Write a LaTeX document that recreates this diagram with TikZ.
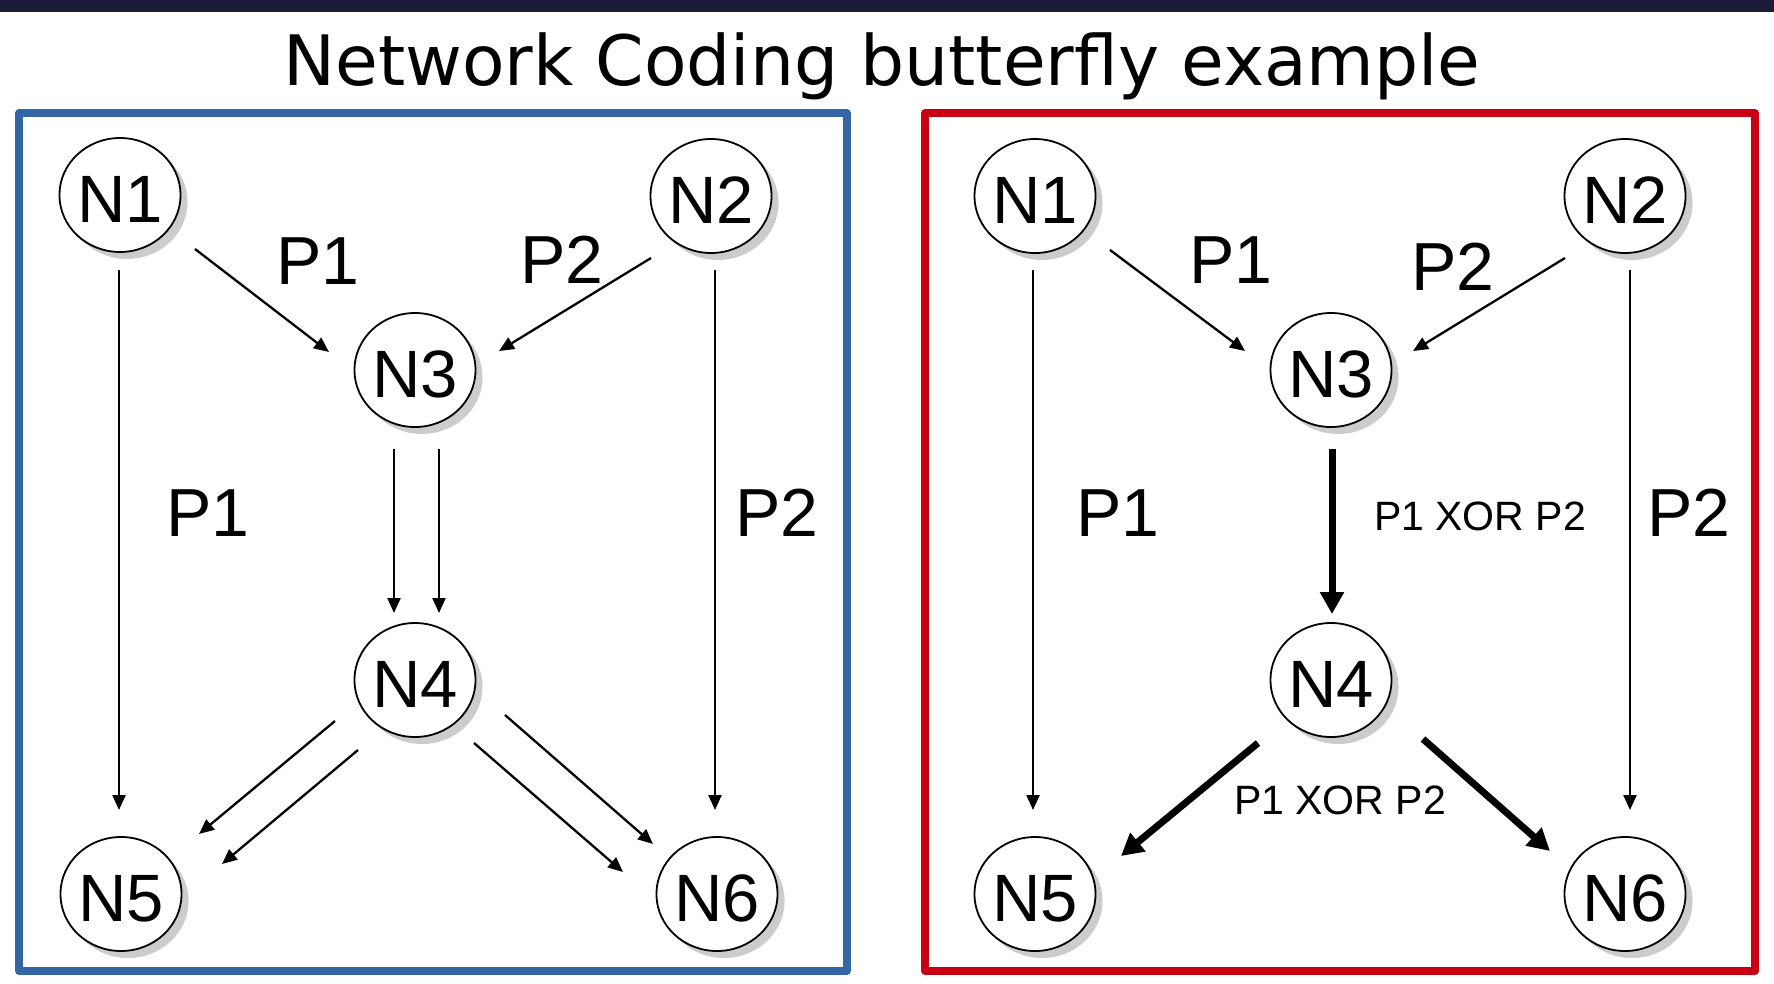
\documentclass[tikz,border=0pt]{standalone}
\usepackage{fontspec}
\setmainfont{Liberation Sans}
\newfontfamily\titlefont{DejaVu Sans}
\usetikzlibrary{arrows.meta,shapes.geometric,shadows,calc}
\definecolor{barcol}{RGB}{27,27,58}
\definecolor{boxblue}{RGB}{52,101,164}
\definecolor{boxred}{RGB}{201,0,20}
\definecolor{shadowgray}{RGB}{204,204,204}
\begin{document}
\begin{tikzpicture}[x=1pt,y=-1pt,
  netnode/.style={ellipse, draw=black, line width=1.8pt, fill=white,
    minimum width=119pt, minimum height=114pt, inner sep=0pt,
    text height=54pt, text depth=0pt,
    font=\fontsize{67}{67}\selectfont,
    drop shadow={shadow xshift=7pt, shadow yshift=-7pt, fill=shadowgray, opacity=1, draw=none}},
  biglabel/.style={font=\fontsize{68}{68}\selectfont, inner sep=0pt},
  smalllabel/.style={font=\fontsize{41}{41}\selectfont, inner sep=0pt},
  thinarrow/.style={line width=2.3pt, -{Triangle[length=15pt,width=13pt]}},
  thickarrow/.style={line width=7pt, -{Triangle[length=22pt,width=23pt]}},
  panel/.style={line width=7.5pt, line join=round}
]
\useasboundingbox (0,0) rectangle (1774,983);
\fill[barcol] (0,0) rectangle (1774,12);
\node[font=\titlefont\fontsize{69.5}{69.5}\selectfont, anchor=base, inner sep=0pt] (title) at (882,85) {Network Coding butterfly example};
\draw[boxblue, panel] (19,113) rectangle (847,971);
\draw[boxred, panel] (925,113) rectangle (1755,971);

% ---------- left panel ----------
\node[netnode] (L1) at (120,195) {N1};
\node[netnode] (L2) at (711,196) {N2};
\node[netnode] (L3) at (415,370) {N3};
\node[netnode] (L4) at (415,680) {N4};
\node[netnode] (L5) at (121,894) {N5};
\node[netnode] (L6) at (717,894) {N6};

\draw[thinarrow] ($(L1)+(75,54)$) -- ($(L3)+(-86,-18)$);
\draw[thinarrow] ($(L2)+(-60,62)$) -- ($(L3)+(84,-19)$);
\draw[thinarrow] ($(L1)+(-1,75)$) -- ($(L5)+(-2,-84)$);
\draw[thinarrow] ($(L2)+(4,74)$) -- ($(L6)+(-2,-84)$);
\draw[thinarrow] ($(L3)+(-21,79)$) -- ($(L4)+(-21,-67)$);
\draw[thinarrow] ($(L3)+(24,79)$) -- ($(L4)+(24,-67)$);
\draw[thinarrow] ($(L4)+(-80,41)$) -- ($(L5)+(78,-60)$);
\draw[thinarrow] ($(L4)+(-57,70)$) -- ($(L5)+(101,-30)$);
\draw[thinarrow] ($(L4)+(90,35)$) -- ($(L6)+(-64,-50)$);
\draw[thinarrow] ($(L4)+(59,63)$) -- ($(L6)+(-94,-22)$);

\node[biglabel] (lp1a) at (318,261) {P1};
\node[biglabel] (lp2a) at (562,260) {P2};
\node[biglabel] (lp1b) at (208,513) {P1};
\node[biglabel] (lp2b) at (777,513) {P2};

% ---------- right panel ----------
\node[netnode] (R1) at (1035,196) {N1};
\node[netnode] (R2) at (1625,196) {N2};
\node[netnode] (R3) at (1331,370) {N3};
\node[netnode] (R4) at (1331,680) {N4};
\node[netnode] (R5) at (1035,894) {N5};
\node[netnode] (R6) at (1625,894) {N6};

\draw[thinarrow] ($(R1)+(75,54)$) -- ($(R3)+(-86,-19)$);
\draw[thinarrow] ($(R2)+(-60,62)$) -- ($(R3)+(82,-19)$);
\draw[thinarrow] ($(R1)+(-2,74)$) -- ($(R5)+(-2,-84)$);
\draw[thinarrow] ($(R2)+(5,74)$) -- ($(R6)+(5,-84)$);
\draw[thickarrow] ($(R3)+(1,79)$) -- ($(R4)+(1,-66)$);
\draw[thickarrow] ($(R4)+(-73,63)$) -- ($(R5)+(86,-38)$);
\draw[thickarrow] ($(R4)+(92,59)$) -- ($(R6)+(-75,-43)$);

\node[biglabel] (rp1a) at (1231,260) {P1};
\node[biglabel] (rp2a) at (1453,267) {P2};
\node[biglabel] (rp1b) at (1118,513) {P1};
\node[biglabel] (rp2b) at (1689,513) {P2};
\node[smalllabel] (rx1) at (1480,516) {P1 XOR P2};
\node[smalllabel] (rx2) at (1340,800) {P1 XOR P2};
\end{tikzpicture}
\end{document}
